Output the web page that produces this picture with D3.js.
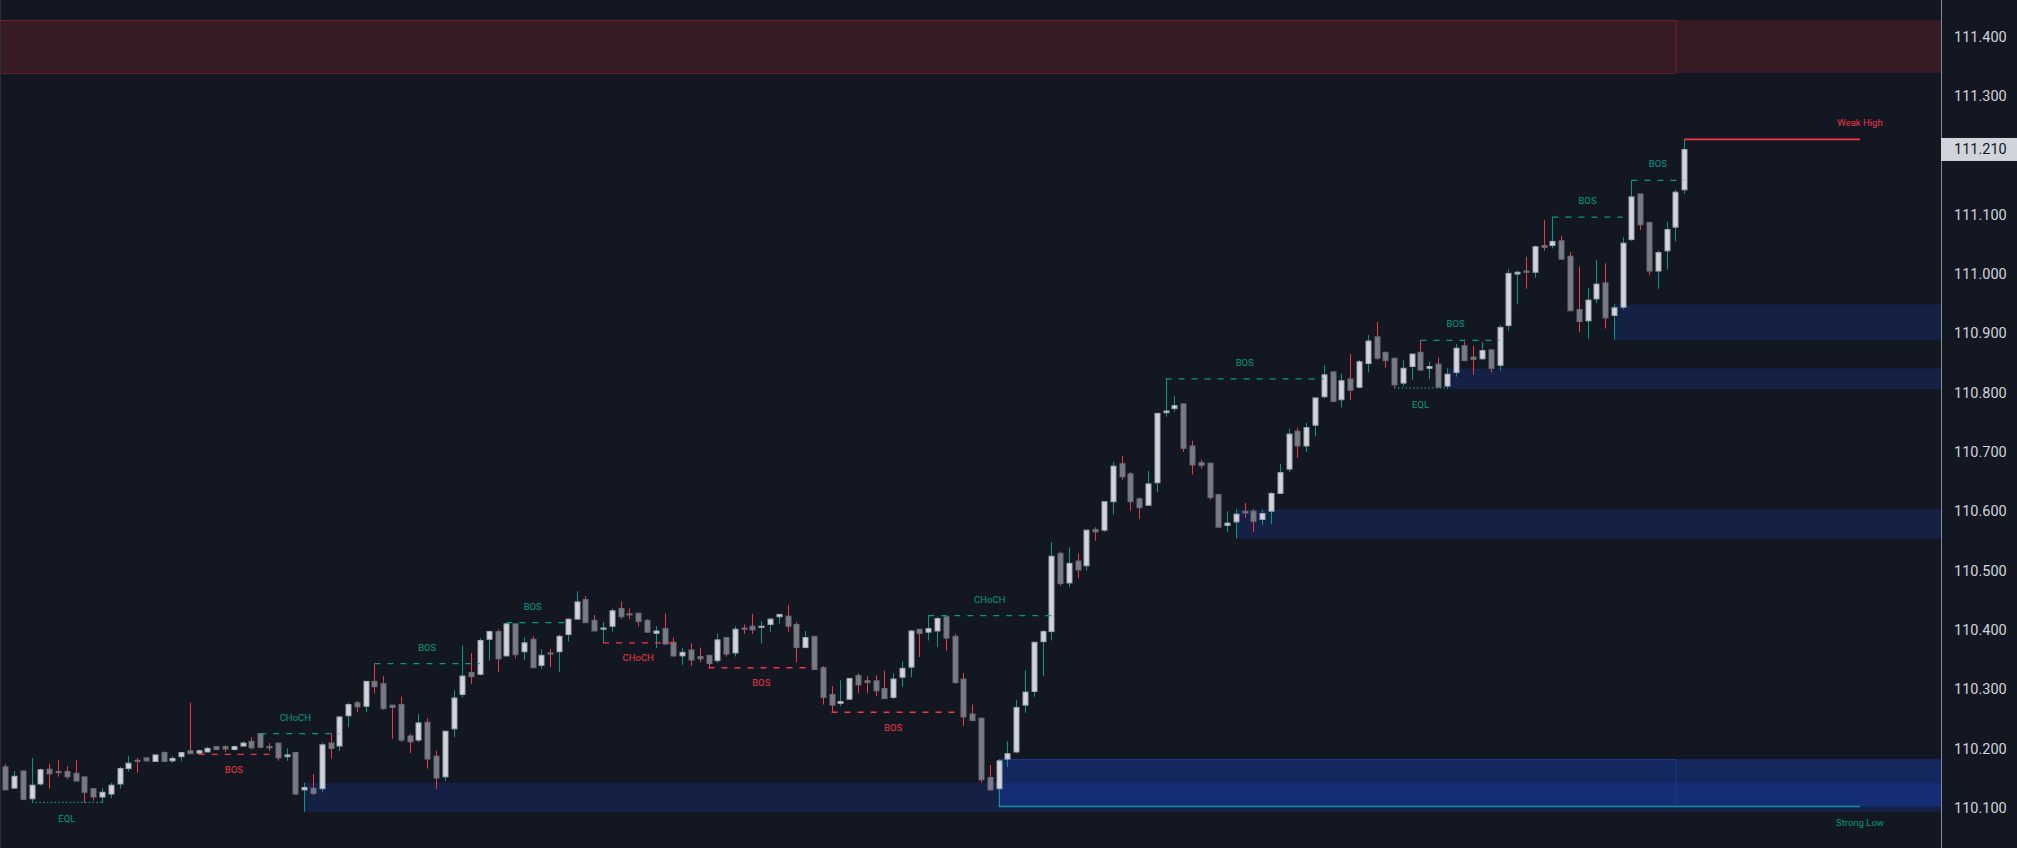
<!DOCTYPE html>
<html>
<head>
<meta charset="utf-8">
<script src="https://cdn.jsdelivr.net/npm/d3@7"></script>
<style>
  html, body { margin: 0; padding: 0; background: #131722; overflow: hidden; }
  svg { display: block; }
</style>
</head>
<body>
<svg id="chart" width="2017" height="848"></svg>
<script>
// candles, one row per bar: [open, high, low, close]
const ohlc = [
  [110.169,110.174,110.130,110.130],[110.133,110.162,110.132,110.153],[110.162,110.162,110.114,110.114],
  [110.115,110.184,110.108,110.138],[110.140,110.166,110.137,110.164],[110.165,110.174,110.132,110.157],
  [110.161,110.180,110.152,110.159],[110.161,110.170,110.148,110.152],[110.158,110.180,110.145,110.145],
  [110.152,110.152,110.108,110.126],[110.132,110.132,110.112,110.118],[110.118,110.133,110.108,110.126],
  [110.123,110.142,110.116,110.138],[110.140,110.169,110.132,110.166],[110.166,110.187,110.161,110.175],
  [110.180,110.184,110.159,110.178],[110.184,110.184,110.177,110.179],[110.178,110.189,110.178,110.189],
  [110.193,110.195,110.177,110.178],[110.179,110.187,110.176,110.183],[110.186,110.193,110.178,110.193],
  [110.196,110.277,110.191,110.191],[110.192,110.198,110.191,110.196],[110.194,110.203,110.194,110.200],
  [110.203,110.204,110.197,110.198],[110.203,110.205,110.194,110.199],[110.198,110.205,110.197,110.203],
  [110.204,110.212,110.203,110.209],[110.212,110.219,110.198,110.201],[110.225,110.225,110.200,110.202],
  [110.203,110.209,110.196,110.202],[110.209,110.209,110.179,110.184],[110.186,110.200,110.179,110.189],
  [110.193,110.193,110.122,110.123],[110.130,110.142,110.093,110.134],[110.133,110.157,110.121,110.124],
  [110.132,110.210,110.126,110.206],[110.209,110.225,110.183,110.200],[110.204,110.255,110.196,110.253],
  [110.255,110.277,110.236,110.274],[110.277,110.280,110.261,110.270],[110.271,110.314,110.261,110.313],
  [110.313,110.343,110.293,110.304],[110.309,110.322,110.265,110.267],[110.273,110.273,110.216,110.269],
  [110.274,110.287,110.211,110.214],[110.221,110.225,110.192,110.211],[110.214,110.258,110.210,110.243],
  [110.244,110.251,110.166,110.182],[110.187,110.196,110.132,110.150],[110.152,110.229,110.145,110.229],
  [110.233,110.298,110.219,110.285],[110.291,110.374,110.286,110.322],[110.328,110.361,110.309,110.321],
  [110.325,110.386,110.323,110.382],[110.384,110.399,110.348,110.397],[110.397,110.401,110.329,110.351],
  [110.356,110.411,110.355,110.410],[110.410,110.410,110.352,110.358],[110.363,110.387,110.349,110.378],
  [110.384,110.389,110.336,110.336],[110.340,110.367,110.334,110.357],[110.361,110.368,110.337,110.359],
  [110.363,110.392,110.329,110.389],[110.392,110.419,110.380,110.418],[110.418,110.465,110.418,110.447],
  [110.451,110.457,110.412,110.412],[110.416,110.425,110.398,110.398],[110.402,110.413,110.378,110.403],
  [110.406,110.436,110.397,110.432],[110.436,110.448,110.418,110.422],[110.427,110.436,110.418,110.425],
  [110.428,110.428,110.406,110.414],[110.416,110.418,110.395,110.396],[110.394,110.406,110.369,110.398],
  [110.402,110.428,110.374,110.376],[110.379,110.387,110.354,110.356],[110.356,110.370,110.341,110.362],
  [110.366,110.377,110.339,110.349],[110.355,110.370,110.345,110.351],[110.357,110.357,110.335,110.343],
  [110.348,110.394,110.344,110.383],[110.387,110.387,110.355,110.359],[110.361,110.406,110.355,110.401],
  [110.403,110.409,110.393,110.402],[110.406,110.427,110.393,110.400],[110.405,110.415,110.377,110.406],
  [110.409,110.420,110.397,110.418],[110.422,110.426,110.410,110.426],[110.423,110.442,110.397,110.406],
  [110.409,110.413,110.345,110.370],[110.370,110.398,110.369,110.387],[110.389,110.389,110.332,110.333],
  [110.336,110.339,110.274,110.286],[110.291,110.305,110.261,110.273],[110.276,110.315,110.271,110.279],
  [110.283,110.318,110.282,110.318],[110.323,110.327,110.293,110.307],[110.314,110.322,110.293,110.311],
  [110.314,110.323,110.288,110.297],[110.301,110.331,110.284,110.284],[110.286,110.327,110.283,110.317],
  [110.320,110.347,110.304,110.335],[110.337,110.400,110.320,110.398],[110.401,110.401,110.354,110.394],
  [110.396,110.425,110.382,110.402],[110.398,110.422,110.371,110.419],[110.422,110.422,110.365,110.386],
  [110.389,110.393,110.309,110.311],[110.317,110.327,110.238,110.253],[110.258,110.274,110.247,110.247],
  [110.251,110.251,110.142,110.147],[110.151,110.172,110.129,110.130],[110.132,110.182,110.102,110.179],
  [110.182,110.212,110.169,110.191],[110.194,110.282,110.192,110.269],[110.273,110.332,110.260,110.295],
  [110.296,110.379,110.287,110.379],[110.380,110.400,110.322,110.397],[110.397,110.548,110.382,110.524],
  [110.529,110.532,110.474,110.478],[110.479,110.539,110.472,110.512],[110.516,110.529,110.487,110.501],
  [110.508,110.569,110.500,110.568],[110.569,110.573,110.550,110.565],[110.568,110.616,110.565,110.616],
  [110.616,110.683,110.594,110.676],[110.680,110.693,110.653,110.658],[110.663,110.666,110.601,110.616],
  [110.621,110.623,110.587,110.606],[110.610,110.668,110.610,110.646],[110.648,110.765,110.632,110.765],
  [110.766,110.823,110.759,110.769],[110.773,110.794,110.768,110.778],[110.781,110.781,110.700,110.706],
  [110.710,110.719,110.662,110.678],[110.682,110.687,110.672,110.677],[110.681,110.681,110.619,110.623],
  [110.628,110.628,110.573,110.573],[110.576,110.600,110.565,110.580],[110.582,110.603,110.554,110.595],
  [110.600,110.614,110.589,110.597],[110.600,110.604,110.565,110.583],[110.586,110.603,110.577,110.596],
  [110.600,110.632,110.578,110.630],[110.630,110.680,110.630,110.665],[110.671,110.739,110.666,110.730],
  [110.735,110.741,110.690,110.710],[110.710,110.749,110.700,110.741],[110.745,110.791,110.726,110.791],
  [110.793,110.846,110.790,110.830],[110.835,110.835,110.785,110.785],[110.788,110.832,110.775,110.820],
  [110.823,110.865,110.788,110.804],[110.809,110.855,110.807,110.852],[110.849,110.897,110.834,110.887],
  [110.894,110.919,110.855,110.858],[110.868,110.868,110.842,110.854],[110.858,110.858,110.808,110.813],
  [110.816,110.855,110.811,110.841],[110.844,110.865,110.822,110.865],[110.868,110.888,110.837,110.838],
  [110.841,110.852,110.823,110.844],[110.848,110.859,110.809,110.809],[110.811,110.841,110.806,110.831],
  [110.834,110.882,110.827,110.875],[110.879,110.886,110.854,110.854],[110.860,110.879,110.830,110.856],
  [110.857,110.885,110.855,110.871],[110.872,110.873,110.834,110.841],[110.846,110.914,110.837,110.910],
  [110.913,111.008,110.904,111.001],[111.000,111.005,110.949,111.003],[111.005,111.029,110.975,111.003],
  [111.003,111.048,110.994,111.046],[111.048,111.091,111.039,111.045],[111.048,111.096,111.043,111.055],
  [111.056,111.064,111.024,111.025],[111.030,111.037,110.938,110.938],[110.940,111.013,110.902,110.920],
  [110.921,110.976,110.891,110.956],[110.958,111.024,110.951,110.983],[110.985,111.018,110.908,110.926],
  [110.930,110.949,110.889,110.943],[110.944,111.062,110.940,111.052],[111.058,111.158,111.056,111.130],
  [111.135,111.135,111.074,111.083],[111.087,111.087,110.998,111.005],[111.005,111.040,110.975,111.036],
  [111.039,111.088,111.007,111.075],[111.079,111.142,111.055,111.138],[111.142,111.227,111.135,111.210]
];

// price scale labels (111.200 sits under the last-price tag, so it is not shown)
const priceTicks = [110.1, 110.2, 110.3, 110.4, 110.5, 110.6, 110.7, 110.8, 110.9, 111.0, 111.1, 111.3, 111.4];

// structure breaks: [fromBar, toBar, level, tag, side]
const structure = [
  [3, 11, 110.109, "EQL", "bull"],
  [22, 31, 110.190, "BOS", "bear"],
  [29, 38, 110.225, "CHoCH", "bull"],
  [42, 54, 110.343, "BOS", "bull"],
  [57, 64, 110.412, "BOS", "bull"],
  [68, 76, 110.378, "CHoCH", "bear"],
  [80, 92, 110.336, "BOS", "bear"],
  [94, 109, 110.261, "BOS", "bear"],
  [105, 119, 110.424, "CHoCH", "bull"],
  [132, 150, 110.823, "BOS", "bull"],
  [158, 164, 110.808, "EQL", "bull"],
  [161, 170, 110.888, "BOS", "bull"],
  [176, 184, 111.096, "BOS", "bull"],
  [185, 191, 111.158, "BOS", "bull"]
];

// swing order blocks (boxed up to a bar, shaded to the right edge): [fromBar, toBar, top, bottom, side]
const swingBlocks = [
  [-40, 190, 111.428, 111.339, "bear"],
  [113, 190, 110.182, 110.102, "bull"]
];

// internal order blocks, shaded to the right edge: [fromBar, top, bottom, side]
const internalBlocks = [
  [34, 110.142, 110.093, "bull"],
  [113, 110.182, 110.102, "bull"],
  [140, 110.603, 110.554, "bull"],
  [164, 110.841, 110.806, "bull"],
  [183, 110.949, 110.889, "bull"]
];

// strong / weak extremes: [fromBar, toBar, level, tag, side]
const extremes = [
  [191, 211, 111.227, "Weak High", "bear"],
  [113, 211, 110.102, "Strong Low", "bull"]
];

const W = 2017, H = 848, plotRight = 1941;
const bg = "#131722";
const teal = "#089981", red = "#f23645";
const sideColor = s => s === "bull" ? teal : red;

const svg = d3.select("#chart");
svg.append("rect").attr("width", W).attr("height", H).attr("fill", bg);

const x = d3.scaleLinear().domain([0, ohlc.length - 1]).range([5.3, 1684.2]);
const y = d3.scaleLinear().domain([110.1, 111.4]).range([807.7, 36.8]);

svg.append("defs").append("clipPath").attr("id", "plotClip")
  .append("rect").attr("width", plotRight).attr("height", H);
const plot = svg.append("g").attr("clip-path", "url(#plotClip)");

// order block shading
const obFill = {bull: "rgba(24,72,204,0.2)", bear: "rgba(194,43,51,0.2)"};
const obEdge = {bull: "rgba(40,90,220,0.35)", bear: "rgba(194,43,51,0.45)"};

const shades = internalBlocks.map(d => ({from: d[0], top: d[1], bot: d[2], side: d[3]}))
  .concat(swingBlocks.map(d => ({from: d[0], top: d[2], bot: d[3], side: d[4]})));

plot.append("g").selectAll("rect").data(shades).join("rect")
  .attr("x", d => x(d.from))
  .attr("width", d => plotRight - x(d.from))
  .attr("y", d => y(d.top))
  .attr("height", d => y(d.bot) - y(d.top))
  .attr("fill", d => obFill[d.side]);

plot.append("g").selectAll("rect").data(swingBlocks).join("rect")
  .attr("x", d => x(d[0]) + 0.5)
  .attr("width", d => x(d[1]) - x(d[0]))
  .attr("y", d => Math.round(y(d[2])) + 0.5)
  .attr("height", d => Math.round(y(d[3]) - y(d[2])))
  .attr("fill", "none")
  .attr("stroke", d => obEdge[d[4]])
  .attr("stroke-width", 1);

// candles
const candles = plot.append("g").selectAll("g").data(ohlc).join("g");

candles.append("line")
  .attr("x1", (d, i) => Math.round(x(i)) + 0.5)
  .attr("x2", (d, i) => Math.round(x(i)) + 0.5)
  .attr("y1", d => y(d[1]))
  .attr("y2", d => y(d[2]))
  .attr("stroke", d => d[3] >= d[0] ? teal : red)
  .attr("stroke-width", 1);

candles.append("rect")
  .attr("x", (d, i) => Math.round(x(i)) - 2)
  .attr("width", 5)
  .attr("y", d => y(Math.max(d[0], d[3])))
  .attr("height", d => Math.max(1.2, Math.abs(y(d[0]) - y(d[3]))))
  .attr("fill", d => d[3] >= d[0] ? "#d1d4dc" : "#787b86")
  .attr("stroke", d => d[3] >= d[0] ? "#a3a6af" : "#6a6d78")
  .attr("stroke-width", 1);

// structure lines and tags
const sg = plot.append("g");
sg.selectAll("line").data(structure).join("line")
  .attr("x1", d => x(d[0]))
  .attr("x2", d => x(d[1]))
  .attr("y1", d => y(d[2]))
  .attr("y2", d => y(d[2]))
  .attr("stroke", d => sideColor(d[4]))
  .attr("stroke-width", 1.3)
  .attr("stroke-dasharray", d => d[3] === "EQL" ? "1.5,2.3" : "6,7");

sg.selectAll("text").data(structure).join("text")
  .attr("x", d => x(Math.floor((d[0] + d[1]) / 2)))
  .attr("y", d => y(d[2]) + (d[3] === "EQL" ? 17.5 : d[4] === "bull" ? -15.5 : 16))
  .attr("text-anchor", "middle")
  .attr("dominant-baseline", "middle")
  .attr("font-family", "Roboto, sans-serif")
  .attr("font-size", 9.5)
  .attr("fill", d => sideColor(d[4]))
  .text(d => d[3]);

// strong low / weak high
const eg = plot.append("g");
eg.selectAll("line").data(extremes).join("line")
  .attr("x1", d => x(d[0]))
  .attr("x2", d => x(d[1]))
  .attr("y1", d => y(d[2]))
  .attr("y2", d => y(d[2]))
  .attr("stroke", d => d[4] === "bull" ? "#1592a0" : red)
  .attr("stroke-width", 1.6);

eg.selectAll("text").data(extremes).join("text")
  .attr("x", d => x(d[1]))
  .attr("y", d => y(d[2]) + (d[4] === "bull" ? 16.5 : -16))
  .attr("text-anchor", "middle")
  .attr("dominant-baseline", "middle")
  .attr("font-family", "Roboto, sans-serif")
  .attr("font-size", 9.5)
  .attr("fill", d => sideColor(d[4]))
  .text(d => d[3]);

// left border and price scale separator
svg.append("line").attr("x1", 0.5).attr("x2", 0.5).attr("y1", 0).attr("y2", H)
  .attr("stroke", "#2a2e39");
svg.append("line").attr("x1", plotRight + 0.5).attr("x2", plotRight + 0.5).attr("y1", 0).attr("y2", H)
  .attr("stroke", "#868993").attr("stroke-width", 1);

// price axis
const axis = d3.axisRight(y).tickValues(priceTicks).tickSize(0).tickPadding(13)
  .tickFormat(d3.format(".3f"));
const ax = svg.append("g").attr("transform", `translate(${plotRight},0)`).call(axis)
  .attr("font-family", "Roboto, sans-serif").attr("font-size", 14.5);
ax.select(".domain").remove();
ax.selectAll("text").attr("fill", "#d1d4dc");

// last price tag
const last = ohlc[ohlc.length - 1][3];
svg.append("rect")
  .attr("x", plotRight).attr("width", W - plotRight)
  .attr("y", y(last) - 11.5).attr("height", 23)
  .attr("fill", "#d1d4dc");
svg.append("text")
  .attr("x", plotRight + 13).attr("y", y(last))
  .attr("dy", "0.32em")
  .attr("font-family", "Roboto, sans-serif").attr("font-size", 14.5)
  .attr("fill", bg)
  .text(d3.format(".3f")(last));
</script>
</body>
</html>
